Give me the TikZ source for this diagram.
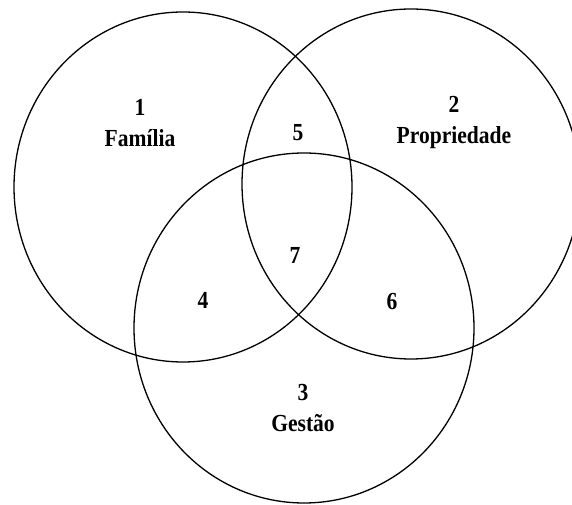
\documentclass[tikz,border=0pt]{standalone}
\usepackage{fontspec}
\setmainfont{Liberation Serif}
\newfontfamily\lab[FakeStretch=0.88]{Liberation Serif}
\begin{document}
\begin{tikzpicture}[x=1pt,y=1pt,
  ring/.style={draw=black,line width=1.3pt},
  lbl/.style={font=\lab\fontsize{24.5}{31}\selectfont\bfseries,align=center,inner sep=0pt}]
\useasboundingbox (0,0) rectangle (572,505);
\clip (0,0) rectangle (572,505);
\draw[ring] (183,318) ellipse [x radius=169,y radius=175];
\draw[ring] (411,321) ellipse [x radius=169,y radius=175];
\draw[ring] (304,177) ellipse [x radius=170,y radius=175];
\node[lbl] (f) at (140,382) {1\\Família};
\node[lbl] (p) at (454,382) {2\\Propriedade};
\node[lbl] (g) at (303,097) {3\\Gestão};
\node[lbl] (n5) at (298,372) {5};
\node[lbl] (n7) at (295,250) {7};
\node[lbl] (n4) at (203,205) {4};
\node[lbl] (n6) at (392,203) {6};
\end{tikzpicture}
\end{document}
